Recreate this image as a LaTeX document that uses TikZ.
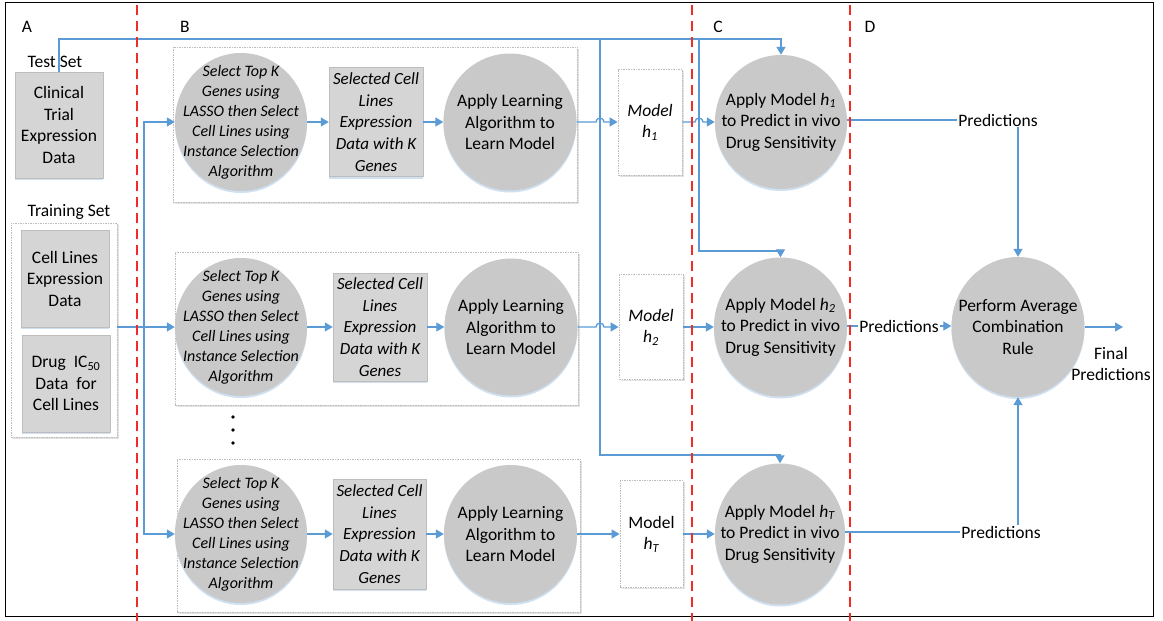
\documentclass[tikz,border=0pt]{standalone}
\usepackage{fontspec}
\setmainfont{Carlito}
\usetikzlibrary{shapes.geometric,arrows.meta,shadows,calc}
\definecolor{flow}{HTML}{5B9BD5}
\definecolor{blobgrey}{HTML}{C9C9C9}
\definecolor{boxgrey}{HTML}{D5D5D5}
\definecolor{edgegrey}{HTML}{BDBDBD}
\definecolor{shade}{HTML}{CFE0F1}
\definecolor{panelshade}{HTML}{E2E2E2}
\definecolor{sepred}{HTML}{F22A2A}
\tikzset{
  txt/.style={font=\fontsize{17.5}{21.5}\selectfont, align=center, inner sep=0pt},
  tag/.style={font=\fontsize{17.5}{21.5}\selectfont, inner sep=1pt, fill=white},
  itxt/.style={font=\fontsize{16}{20}\selectfont\itshape, align=center, inner sep=0pt},
  rtxt/.style={font=\fontsize{17}{21.7}\selectfont\itshape, align=center, inner sep=0pt},
  blob/.style={ellipse, fill=blobgrey, inner sep=0pt,
    drop shadow={shadow xshift=0pt, shadow yshift=-2pt, fill=shade, opacity=1}},
  greybox/.style={rectangle, fill=boxgrey, draw=edgegrey, line width=0.5pt, inner sep=0pt,
    drop shadow={shadow xshift=0pt, shadow yshift=-2pt, fill=shade, opacity=1}},
  panel/.style={rectangle, fill=white, draw=edgegrey, line width=0.8pt,
    dash pattern=on 1.5pt off 1pt, inner sep=0pt,
    drop shadow={shadow xshift=1.5pt, shadow yshift=-1.5pt, fill=panelshade, opacity=1}},
  flowline/.style={draw=flow, line width=1.3pt},
  arr/.style={flowline, -{Triangle[length=8pt,width=9pt]}},
  sepline/.style={draw=sepred, line width=1.6pt, dash pattern=on 10pt off 6pt},
}
\begin{document}
\begin{tikzpicture}[x=1pt,y=-1pt]
\fill[white] (0,0) rectangle (1163,621);
\useasboundingbox (0,0) rectangle (1163,621);
\draw[black, line width=1pt] (5,2) rectangle (1153,616);

% section letters
\node[txt] at (27,27) {A};
\node[txt] at (185,27) {B};
\node[txt] at (718,27) {C};
\node[txt] at (870,27) {D};

% ---- A: input data ----
\node[txt] (testlbl) at (55,62) {Test Set};
\node[greybox, minimum width=88pt, minimum height=106pt] (test) at (59,125) {};
\node[txt] at (test) {Clinical\\Trial\\Expression\\Data};

\node[txt] (trainlbl) at (69,212) {Training Set};
\node[panel, minimum width=106pt, minimum height=214pt] (train) at (64,330) {};
\node[greybox, minimum width=88pt, minimum height=97pt] (cell) at (65,278.5) {};
\node[txt] at (cell) {Cell Lines\\Expression\\Data};
\node[greybox, minimum width=88pt, minimum height=97pt] (drug) at (66,383.5) {};
\node[txt] at (drug) {Drug\ \ IC\textsubscript{50}\\Data\ \ for\\Cell Lines};

% ---- B: three learning pipelines ----
\node[panel, minimum width=404pt, minimum height=155pt] (row1) at (375,124.5) {};
\node[panel, minimum width=403pt, minimum height=153pt] (row2) at (376.5,328.5) {};
\node[panel, minimum width=403pt, minimum height=153pt] (row3) at (378.5,535.5) {};

% row 1
\node[blob, minimum width=132pt, minimum height=138pt] (s1) at (241,122) {};
\node[itxt] at (s1) {Select Top K\\Genes using\\LASSO then Select\\Cell Lines using\\Instance Selection\\Algorithm};
\node[greybox, minimum width=94pt, minimum height=109pt] (d1) at (376,122) {};
\node[rtxt] at (d1) {Selected Cell\\Lines\\Expression\\Data with K\\Genes};
\node[blob, minimum width=133pt, minimum height=137pt] (l1) at (510,122) {};
\node[txt] at (l1) {Apply Learning\\Algorithm to\\Learn Model};

% row 2
\node[blob, minimum width=132pt, minimum height=138pt] (s2) at (241,327) {};
\node[itxt] at (s2) {Select Top K\\Genes using\\LASSO then Select\\Cell Lines using\\Instance Selection\\Algorithm};
\node[greybox, minimum width=94pt, minimum height=108pt] (d2) at (380,327) {};
\node[rtxt] at (d2) {Selected Cell\\Lines\\Expression\\Data with K\\Genes};
\node[blob, minimum width=133pt, minimum height=137pt] (l2) at (511,327) {};
\node[txt] at (l2) {Apply Learning\\Algorithm to\\Learn Model};

% row 3
\node[blob, minimum width=132pt, minimum height=138pt] (s3) at (241,534) {};
\node[itxt] at (s3) {Select Top K\\Genes using\\LASSO then Select\\Cell Lines using\\Instance Selection\\Algorithm};
\node[greybox, minimum width=93pt, minimum height=110pt] (d3) at (379.5,534) {};
\node[rtxt] at (d3) {Selected Cell\\Lines\\Expression\\Data with K\\Genes};
\node[blob, minimum width=133pt, minimum height=138pt] (l3) at (510.5,534) {};
\node[txt] at (l3) {Apply Learning\\Algorithm to\\Learn Model};

% ellipsis between pipelines
\fill (233,417) circle[radius=1.8];
\fill (233,430) circle[radius=1.8];
\fill (233,443) circle[radius=1.8];

% learned models
\node[panel, minimum width=64pt, minimum height=106pt] (m1) at (650,122) {};
\node[txt] at (m1) {\itshape Model\\\itshape h\textsubscript{1}};
\node[panel, minimum width=64pt, minimum height=105pt] (m2) at (651,327) {};
\node[txt] at (m2) {\itshape Model\\\itshape h\textsubscript{2}};
\node[panel, minimum width=63pt, minimum height=107pt] (m3) at (651.5,534) {};
\node[txt] at (m3) {Model\\\textit{h}\textsubscript{\textit{T}}};

% ---- C: prediction on the test set ----
\node[blob, minimum width=132pt, minimum height=134pt] (h1) at (781,122) {};
\node[txt] at (h1) {Apply Model \textit{h}\textsubscript{\textit{1}}\\to Predict in vivo\\Drug Sensitivity};
\node[blob, minimum width=133pt, minimum height=139pt] (h2) at (780.5,327) {};
\node[txt] at (h2) {Apply Model \textit{h}\textsubscript{\textit{2}}\\to Predict in vivo\\Drug Sensitivity};
\node[blob, minimum width=130pt, minimum height=141pt] (h3) at (780,534) {};
\node[txt] at (h3) {Apply Model \textit{h}\textsubscript{\textit{T}}\\to Predict in vivo\\Drug Sensitivity};

% ---- D: combination ----
\node[blob, minimum width=133pt, minimum height=140pt] (combo) at (1018,327) {};
\node[txt] at (combo) {Perform Average\\Combination\\Rule};
\node[tag] (p1) at (998,120) {Predictions};
\node[tag] (p2) at (899,326) {Predictions};
\node[tag] (p3) at (1001,532) {Predictions};
\node[txt] (final) at (1111,364) {Final\\Predictions};
\coordinate (fin) at (1123,327);

% ---- connectors ----
\coordinate (top) at (0,39);
\coordinate (v1) at (600,39);
\coordinate (v1low) at (600,455);
\coordinate (v2) at (699,39);
\coordinate (v2low) at (699,251);
\coordinate (split) at (144,327);

% test data routed to every model application
\draw[arr] (test.north) |- (top -| h1.north) -- (h1.north);
\draw[arr] (v1) -- (v1low) -| (h3.north);
\draw[arr] (v2) -- (v2low) -| (h2.north);

% training data feeding the pipelines
\draw[flowline] (train.east |- split) -- (split);
\draw[arr] (split) |- (s1.west);
\draw[arr] (split) -- (s2.west);
\draw[arr] (split) |- (s3.west);

% inside each pipeline
\draw[arr] (s1) -- (d1);
\draw[arr] (d1) -- (l1);
\draw[arr] (s2) -- (d2);
\draw[arr] (d2) -- (l2);
\draw[arr] (s3) -- (d3);
\draw[arr] (d3) -- (l3);

% learned models, hopping over the test-data lines
\draw[arr] (l1.east) -- ([xshift=-4pt]l1.east -| v1) arc[start angle=180, end angle=360, radius=4] -- (m1.west);
\draw[arr] (m1.east) -- ([xshift=-4pt]m1.east -| v2) arc[start angle=180, end angle=360, radius=4] -- (h1.west);
\draw[arr] (l2.east) -- ([xshift=-4pt]l2.east -| v1) arc[start angle=180, end angle=360, radius=4] -- (m2.west);
\draw[arr] (m2.east) -- (h2.west);
\draw[arr] (l3.east) -- (m3.west);
\draw[arr] (m3.east) -- (h3.west);

% predictions into the combination rule
\draw[flowline] (p1.west -| h1.east) -- (p1.west);
\draw[arr] (p1.south -| combo.north) -- (combo.north);
\draw[flowline] (p2.west -| h2.east) -- (p2.west);
\draw[arr] (p2.east) -- (p2.east -| combo.west);
\draw[flowline] (p3.west -| h3.east) -- (p3.west);
\draw[arr] (p3.north -| combo.south) -- (combo.south);
\draw[arr] (combo.east) -- (fin);

% section separators
\draw[sepline] (137,5) -- (137,621);
\draw[sepline] (692,5) -- (692,621);
\draw[sepline] (850,5) -- (850,621);
\end{tikzpicture}
\end{document}
